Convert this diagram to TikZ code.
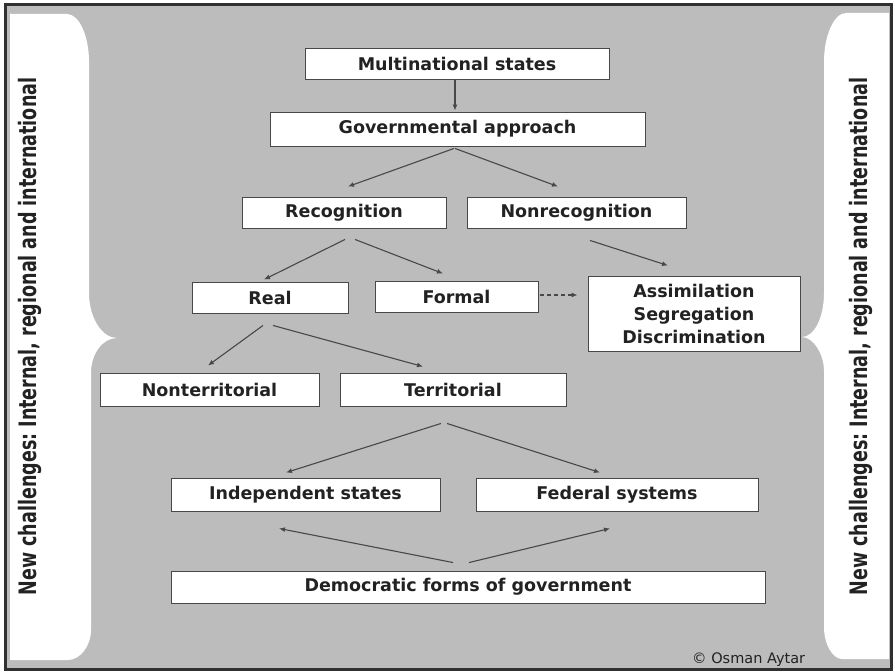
\documentclass[tikz,border=0pt]{standalone}
\usepackage{fontspec}
\usepackage{graphicx}
\setmainfont{DejaVu Sans}
\usetikzlibrary{arrows.meta,calc}
\definecolor{panelgray}{RGB}{188,188,188}
\definecolor{ink}{RGB}{34,34,34}
\definecolor{edge}{RGB}{72,72,72}
\definecolor{framec}{RGB}{48,48,48}
\begin{document}
\begin{tikzpicture}[x=1bp,y=-1bp,
  box/.style={draw=edge, line width=0.9bp, fill=white, text=ink,
    font=\fontsize{17.5bp}{21bp}\selectfont\bfseries, inner sep=0pt,
    minimum height=31bp},
  arr/.style={draw=edge, line width=1.1bp, -{Latex[length=6bp,width=5bp]}},
  sidetext/.style={rotate=90, anchor=base, text=ink,
    font=\fontsize{24bp}{28bp}\selectfont\bfseries},
  panel/.style={fill=white},
]
\useasboundingbox (0,0) rectangle (895,672);

% background and frame
\fill[panelgray] (4,4) rectangle (891,670);
\draw[framec, line width=3bp] (5,5) rectangle (891,669);

% left brace panel
\fill[panel] (10,14) -- (67,14)
  .. controls (79,14) and (89,35.5) .. (89,62)
  -- (89,293)
  .. controls (89,317.8) and (102,338) .. (117,338)
  .. controls (102.6,338) and (91,353.7) .. (91,373)
  -- (91,630)
  .. controls (91,646) and (80,660) .. (68,660)
  -- (10,660) -- cycle;

% right brace panel
\fill[panel] (889,13) -- (846,13)
  .. controls (834,13) and (824,35.5) .. (824,62)
  -- (824,293)
  .. controls (824,317.8) and (814,337) .. (802,337)
  .. controls (813,337) and (824,353.7) .. (824,371)
  -- (824,627)
  .. controls (824,645) and (833,659) .. (842,659)
  -- (889,659) -- cycle;

% side captions
\node[sidetext] (lcap) at (36,336.5)
  {\scalebox{0.73}[1]{New challenges:\ Internal, regional and international}};
\node[sidetext] (rcap) at (867,336.5)
  {\scalebox{0.73}[1]{New challenges:\ Internal, regional and international}};

% boxes
\node[box, minimum width=304bp] (ms) at (457,63.5) {Multinational states};
\node[box, minimum width=375bp, minimum height=34bp] (ga) at (457.5,129) {Governmental approach};
\node[box, minimum width=204bp] (rec) at (344,212.5) {Recognition};
\node[box, minimum width=219bp] (nrec) at (576.5,212.5) {Nonrecognition};
\node[box, minimum width=156bp] (real) at (270,297.5) {Real};
\node[box, minimum width=163bp] (formal) at (456.5,296.5) {Formal};
\node[box, minimum width=212bp, minimum height=75bp, align=center,
  font=\fontsize{17.5bp}{23bp}\selectfont\bfseries] (as) at (694,313.5)
  {Assimilation\\Segregation\\Discrimination};
\node[box, minimum width=219bp, minimum height=33bp] (nt) at (209.5,389.5) {Nonterritorial};
\node[box, minimum width=226bp, minimum height=33bp] (terr) at (453,389.5) {Territorial};
\node[box, minimum width=269bp, minimum height=33bp] (ind) at (305.5,494.5) {Independent states};
\node[box, minimum width=282bp, minimum height=33bp] (fed) at (617,494.5) {Federal systems};
\node[box, minimum width=594bp, minimum height=32bp] (dem) at (468,587) {Democratic forms of government};

% connectors
\draw[arr] ($(ms.south)+(-2,1)$) -- ($(ga.north)+(-2.5,-1)$);
\draw[arr] ($(ga.south)+(-3.5,2)$) -- ($(rec.north)+(4,-10)$);
\draw[arr] ($(ga.south)+(-2.5,2)$) -- ($(nrec.north)+(-18.5,-10)$);
\draw[arr] ($(rec.south)+(1,11)$) -- ($(real.north)+(-6,-2)$);
\draw[arr] ($(rec.south)+(11,11)$) -- ($(formal.north)+(-13.5,-7)$);
\draw[arr] ($(nrec.south)+(13.5,12)$) -- ($(as.north)+(-26,-10)$);
\draw[arr, dashed, dash pattern=on 4bp off 3bp] ($(formal.east)+(2,-1.5)$) -- ($(as.west)+(-10,-18.5)$);
\draw[arr] ($(real.south)+(-7,12)$) -- ($(nt.north)+(-1.5,-7)$);
\draw[arr] ($(real.south)+(3,12)$) -- ($(terr.north)+(-30,-6)$);
\draw[arr] ($(terr.south)+(-12,17)$) -- ($(ind.north)+(-19.5,-5)$);
\draw[arr] ($(terr.south)+(-6,17)$) -- ($(fed.north)+(-17,-5)$);
\draw[arr] ($(dem.north)+(-15,-8)$) -- ($(ind.south)+(-26.5,17)$);
\draw[arr] ($(dem.north)+(1,-8)$) -- ($(fed.south)+(-7,17)$);

% credit line
\node[anchor=base west, text=ink, font=\fontsize{14.5bp}{17bp}\selectfont, inner sep=0pt]
  (credit) at (692,663) {\copyright\ Osman Aytar};
\end{tikzpicture}
\end{document}
